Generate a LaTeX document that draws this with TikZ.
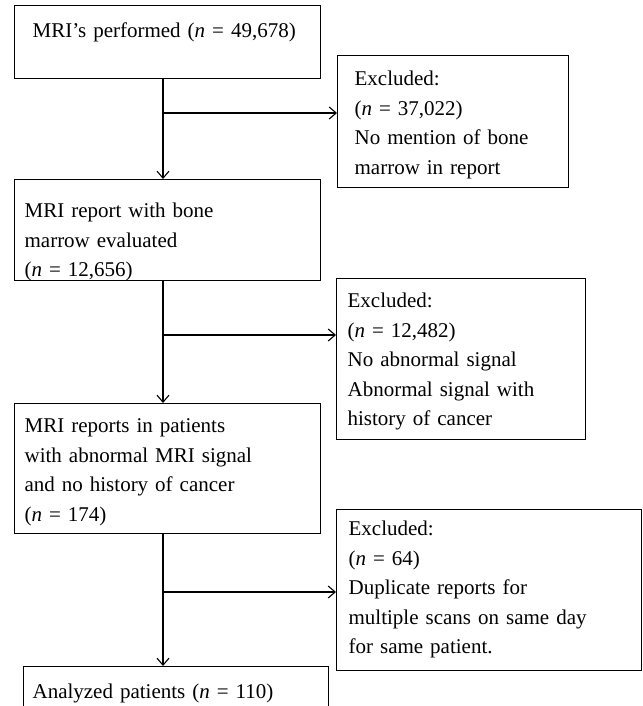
\documentclass[tikz,border=0pt]{standalone}
\usepackage{fontspec}
\setmainfont{Liberation Serif}
\usetikzlibrary{arrows.meta, positioning}

\begin{document}
\begin{tikzpicture}[x=1pt, y=-1pt,
    every node/.style={font=\fontsize{21}{29.5}\selectfont},
    box/.style={draw, line width=1.2pt, inner sep=0pt, align=left, anchor=north west},
    flow/.style={line width=1.1pt, -{Straight Barb[length=7pt, width=12pt, line width=1.1pt]}}]
  \clip (0,0) rectangle (642,706);

  % Main column
  \node[box, text width=270pt, inner xsep=18pt, text height=32pt, text depth=41pt] (mri) at (14,5)
    {MRI's performed (\textit{n} = 49,678)};
  \node[box, text width=286pt, inner xsep=10pt, text height=38pt, text depth=63pt] (marrow) at (14,179)
    {MRI report with bone\\ marrow evaluated\\ (\textit{n} = 12,656)};
  \node[box, text width=286pt, inner xsep=10pt, text height=29pt, text depth=101pt] (abnormal) at (14,403)
    {MRI reports in patients\\ with abnormal MRI signal\\ and no history of cancer\\ (\textit{n} = 174)};
  \node[box, text width=287pt, inner xsep=9pt, text height=32pt, text depth=60pt] (analyzed) at (23,666)
    {Analyzed patients (\textit{n} = 110)};

  % Exclusions
  \node[box, text width=197pt, inner xsep=17pt, text height=30pt, text depth=102pt] (excl1) at (337,55)
    {Excluded:\\ (\textit{n} = 37,022)\\ No mention of bone\\ marrow in report};
  \node[box, text width=227pt, inner xsep=11pt, text height=29pt, text depth=132pt] (excl2) at (336,278)
    {Excluded:\\ (\textit{n} = 12,482)\\ No abnormal signal\\ Abnormal signal with\\ history of cancer};
  \node[box, text width=281pt, inner xsep=12pt, text height=26pt, text depth=135pt] (excl3) at (336,509)
    {Excluded:\\ (\textit{n} = 64)\\ Duplicate reports for\\ multiple scans on same day\\ for same patient.};

  % Spine and branch points
  \coordinate (spine) at (163,0);
  \coordinate (b1) at (163,113);
  \coordinate (b2) at (163,335);
  \coordinate (b3) at (163,592);

  % Flow down
  \draw[flow] (mri.south -| spine) -- (marrow.north -| spine);
  \draw[flow] (marrow.south -| spine) -- (abnormal.north -| spine);
  \draw[flow] (abnormal.south -| spine) -- (analyzed.north -| spine);

  % Flow to exclusions
  \draw[flow] (b1) -- (b1 -| excl1.west);
  \draw[flow] (b2) -- (b2 -| excl2.west);
  \draw[flow] (b3) -- (b3 -| excl3.west);
\end{tikzpicture}
\end{document}
